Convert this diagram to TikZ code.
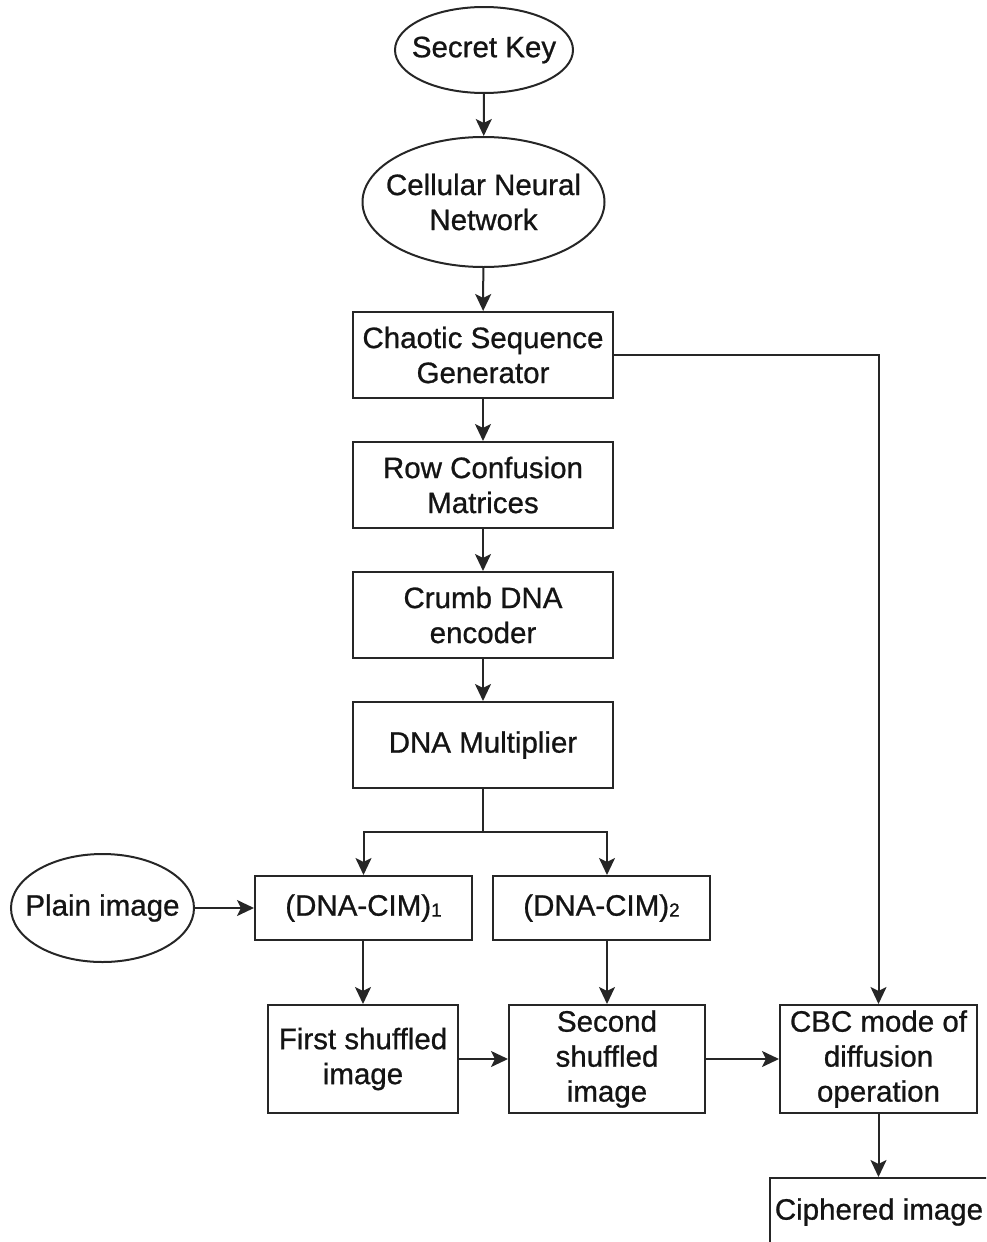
\documentclass[tikz,border=0pt]{standalone}
\usepackage{fontspec}
\setmainfont{Liberation Sans}[FakeBold=0.8,UprightFeatures={FakeBold=0.8}]
\usetikzlibrary{shapes.geometric,arrows.meta}

\tikzset{
  every node/.style={font=\fontsize{29.5}{35}\selectfont, align=center, inner sep=0pt, text=black!92},
  box/.style={draw, line width=2pt, rectangle, draw=black!85},
  oval/.style={draw, line width=2pt, ellipse, inner xsep=-20pt, draw=black!85},
  flow/.style={line width=2pt, draw=black!85, -{Stealth[length=17pt,width=16pt,inset=4pt]}},
  wire/.style={line width=2pt, draw=black!85},
}
\newcommand{\cimsub}[1]{\raisebox{-1pt}{\fontsize{19}{19}\selectfont #1}}

\begin{document}
\begin{tikzpicture}[x=1pt,y=-1pt]
  \useasboundingbox (0,0) rectangle (986,1242);
  \clip (0,0) rectangle (986,1242);

  % key generation chain
  \node[oval, minimum width=178, minimum height=86] (key) at (484,50) {Secret Key};
  \node[oval, minimum width=242, minimum height=130] (cnn) at (483.5,202) {Cellular Neural\\Network};
  \node[box, minimum width=260, minimum height=86] (chaos) at (483,355) {Chaotic Sequence\\Generator};
  \node[box, minimum width=260, minimum height=86] (row) at (483,485) {Row Confusion\\Matrices};
  \node[box, minimum width=260, minimum height=86] (crumb) at (483,615) {Crumb DNA\\encoder};
  \node[box, minimum width=260, minimum height=86] (mult) at (483,745) {DNA Multiplier};

  % confusion stage
  \node[oval, minimum width=183, minimum height=108] (plain) at (102.5,908) {Plain image};
  \node[box, minimum width=217, minimum height=64] (cim1) at (363.5,908) {(DNA-CIM)\cimsub{1}};
  \node[box, minimum width=217, minimum height=64] (cim2) at (601.5,908) {(DNA-CIM)\cimsub{2}};

  % shuffling and diffusion
  \node[box, minimum width=190, minimum height=108] (first) at (363,1059) {First shuffled\\image};
  \node[box, minimum width=196, minimum height=108] (second) at (607,1059) {Second\\shuffled\\image};
  \node[box, minimum width=197, minimum height=108] (cbc) at (878.5,1059) {CBC mode of\\diffusion\\operation};
  \node[box, minimum width=218, minimum height=68] (ciph) at (879,1212) {Ciphered image};

  \coordinate (split) at (483,832);

  % connectors
  \draw[flow] (key) -- (cnn);
  \draw[flow] (cnn) -- (chaos);
  \draw[flow] (chaos) -- (row);
  \draw[flow] (row) -- (crumb);
  \draw[flow] (crumb) -- (mult);
  \draw[wire] (mult.south) -- (split);
  \draw[flow] (split) -| (cim1.north);
  \draw[flow] (split) -| (cim2.north -| second.north);
  \draw[flow] (plain) -- (cim1);
  \draw[flow] (cim1.south -| first.north) -- (first.north);
  \draw[flow] (cim2.south -| second.north) -- (second.north);
  \draw[flow] (first) -- (second);
  \draw[flow] (second) -- (cbc);
  \draw[flow] (chaos.east) -| (cbc.north);
  \draw[flow] (cbc.south) -- (cbc.south |- ciph.north);
\end{tikzpicture}
\end{document}
